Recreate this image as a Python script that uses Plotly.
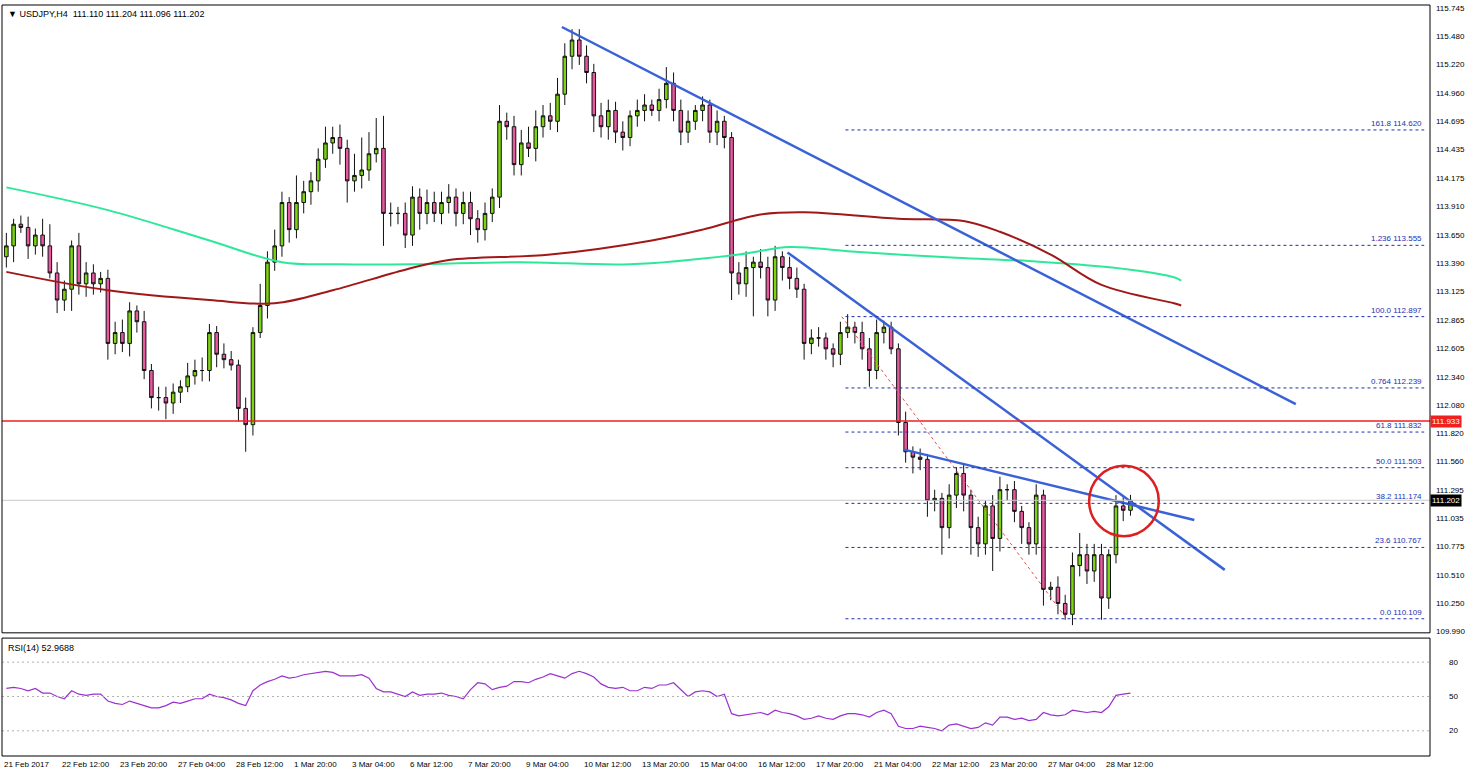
import plotly.graph_objects as go

closes = [113.55,113.75,113.72,113.55,113.65,113.55,113.3,113.05,113.15,113.55,113.2,113.3,113.2,113.25,112.65,
112.75,112.65,112.95,112.85,112.4,112.15,112.15,112.1,112.2,112.25,112.35,112.4,112.4,112.75,112.55,112.5,112.45,112.05,111.9,
112.75,113.0,113.4,113.55,113.95,113.7,113.95,114.05,114.15,114.35,114.5,114.55,114.45,114.15,114.2,114.25,114.4,114.45,
113.85,113.85,113.85,113.65,114.0,113.85,113.95,113.85,113.95,114.0,113.85,113.95,113.8,113.7,113.85,114.0,
114.7,114.65,114.3,114.5,114.45,114.65,114.75,114.7,114.95,115.3,115.45,115.3,115.15,
114.75,114.65,114.8,114.6,114.55,114.75,114.8,114.85,114.8,114.9,115.05,114.8,114.6,114.7,114.8,114.85,114.6,114.7,114.55,
113.3,113.2,113.35,113.4,113.35,113.05,113.45,113.35,113.25,113.15,112.65,112.7,112.7,112.6,112.55,112.75,112.8,112.75,112.6,112.4,112.75,112.8,112.6,
111.92,111.65,111.6,111.58,111.2,111.22,110.95,111.25,111.45,111.25,110.95,110.8,111.15,110.85,111.3,111.3,111.1,110.95,110.8,111.25,
110.38,110.4,110.25,110.15,110.6,110.7,110.55,110.7,110.3,110.7,111.15,111.11,111.202]
first_open = 113.45
wick_up = [0.12,0.05,0.08,0.1,0.06,0.15,0.2,0.1,0.08,0.05,0.12,0.1,0.08,0.06,0.08,
0.1,0.12,0.08,0.05,0.1,0.06,0.1,0.1,0.08,0.06,0.12,0.1,0.12,0.08,0.06,0.1,0.08,0.05,0.1,
0.05,0.2,0.1,0.15,0.1,0.05,0.25,0.1,0.08,0.1,0.15,0.1,0.12,0.08,0.2,0.3,0.2,0.28,
0.3,0.1,0.06,0.1,0.1,0.08,0.12,0.1,0.1,0.12,0.08,0.1,0.1,0.08,0.1,0.08,
0.15,0.08,0.1,0.12,0.15,0.15,0.1,0.12,0.15,0.12,0.1,0.1,0.1,
0.08,0.12,0.1,0.08,0.1,0.05,0.1,0.1,0.05,0.1,0.15,0.1,0.1,0.1,0.05,0.08,0.05,0.1,0.05,
0.05,0.1,0.15,0.05,0.12,0.1,0.1,0.05,0.1,0.1,0.05,0.08,0.1,0.05,0.05,0.1,0.12,0.05,0.1,0.1,0.12,0.06,0.05,
0.05,0.1,0.05,0.08,0.05,0.08,0.05,0.1,0.06,0.08,0.05,0.1,0.05,0.1,0.12,0.05,0.08,0.05,0.05,0.1,
0.05,0.05,0.1,0.08,0.12,0.2,0.1,0.1,0.1,0.05,0.1,0.08,0.05]
wick_dn = [0.1,0.15,0.05,0.12,0.08,0.1,0.05,0.12,0.1,0.2,0.1,0.12,0.1,0.08,0.15,
0.1,0.08,0.12,0.1,0.08,0.1,0.12,0.15,0.1,0.1,0.05,0.08,0.1,0.1,0.12,0.08,0.05,0.12,0.25,
0.1,0.05,0.12,0.08,0.1,0.12,0.08,0.1,0.12,0.1,0.08,0.1,0.15,0.2,0.1,0.12,0.1,0.08,
0.3,0.12,0.1,0.12,0.1,0.15,0.1,0.08,0.1,0.1,0.12,0.1,0.15,0.12,0.1,0.08,
0.1,0.12,0.1,0.1,0.08,0.12,0.1,0.08,0.1,0.1,0.12,0.08,0.1,
0.15,0.1,0.12,0.1,0.12,0.08,0.1,0.1,0.05,0.1,0.08,0.1,0.12,0.1,0.08,0.1,0.1,0.12,0.1,
0.25,0.1,0.12,0.45,0.1,0.15,0.1,0.12,0.1,0.08,0.15,0.1,0.08,0.1,0.12,0.1,0.05,0.1,0.1,0.15,0.08,0.1,0.05,
0.12,0.1,0.15,0.1,0.15,0.1,0.25,0.1,0.12,0.15,0.25,0.12,0.1,0.3,0.12,0.1,0.1,0.15,0.1,0.1,
0.15,0.1,0.1,0.05,0.1,0.1,0.12,0.1,0.2,0.1,0.08,0.1,0.05]

rsi = [57,58,57,55,57,53,53,50,48,55,52,51,52,52,46,
44,43,46,44,42,40,40,42,45,44,46,48,48,52,50,49,47,44,42,
55,60,63,65,68,66,67,69,70,71,72,71,68,68,68,69,66,57,
54,54,52,50,54,51,52,52,53,51,50,48,56,62,61,56,
58,59,63,63,62,65,67,70,68,66,70,72,70,
67,61,58,57,58,55,55,58,57,60,60,62,56,50,54,55,54,50,52,
35,33,34,35,36,34,38,36,35,33,30,31,33,31,30,33,35,35,34,32,36,38,35,
24,22,22,24,23,22,20,25,26,24,22,23,27,25,32,32,30,31,29,30,
36,34,33,34,38,37,36,37,36,41,51,52,53]

ma_green_x = [0,14,28,38,46,56,71,86,101,108,116,131,141,155,161,162]
ma_green_v = [114.09,113.88,113.6,113.4,113.38,113.38,113.4,113.38,113.47,113.54,113.5,113.44,113.41,113.33,113.26,113.23]
ma_red_x = [0,14,28,37,45,55,61,75,89,96,104,110,123,132,137,144,151,161,162]
ma_red_v = [113.31,113.14,113.05,113.02,113.14,113.33,113.42,113.47,113.6,113.7,113.84,113.86,113.8,113.78,113.68,113.47,113.19,113.02,113.0]

fib_levels = [114.620,113.555,112.897,112.239,111.832,111.503,111.174,110.767,110.109]
fib_names = ["161.8","1.236","100.0","0.764","61.8","50.0","38.2","23.6","0.0"]
tick_vals = [115.745,115.480,115.220,114.960,114.695,114.435,114.175,113.910,113.650,113.390,113.125,112.865,
112.605,112.340,112.080,111.820,111.560,111.295,111.035,110.775,110.510,110.250,109.990]
date_labels = ["21 Feb 2017","22 Feb 12:00","23 Feb 20:00","27 Feb 04:00","28 Feb 12:00","1 Mar 20:00","3 Mar 04:00",
"6 Mar 12:00","7 Mar 20:00","9 Mar 04:00","10 Mar 12:00","13 Mar 20:00","15 Mar 04:00","16 Mar 12:00",
"17 Mar 20:00","21 Mar 04:00","22 Mar 12:00","23 Mar 20:00","27 Mar 04:00","28 Mar 12:00"]
tl1 = ([76.6,177.8],[115.57,112.09])
tl2 = ([107.7,168.0],[113.49,110.56])
tl3 = ([123.8,163.8],[111.67,111.02])
support = 111.933
last_price = 111.202

n = len(closes)
xs = list(range(n))
opens = [first_open] + closes[:-1]
highs = [max(o, c) + w for o, c, w in zip(opens, closes, wick_up)]
lows = [min(o, c) - w for o, c, w in zip(opens, closes, wick_dn)]

fig = go.Figure()
fig.add_trace(go.Scatter(x=ma_green_x, y=ma_green_v, mode="lines", line=dict(color="#2EE89A", width=2, shape="spline"), yaxis="y", hoverinfo="skip"))
fig.add_trace(go.Scatter(x=ma_red_x, y=ma_red_v, mode="lines", line=dict(color="#A01818", width=2, shape="spline"), yaxis="y", hoverinfo="skip"))
fig.add_trace(go.Candlestick(x=xs, open=opens, high=highs, low=lows, close=closes,
    increasing=dict(fillcolor="#7CD412", line=dict(color="#111111", width=1)),
    decreasing=dict(fillcolor="#E8579F", line=dict(color="#111111", width=1)),
    whiskerwidth=0, yaxis="y"))
for tl in (tl1, tl2, tl3):
    fig.add_trace(go.Scatter(x=tl[0], y=tl[1], mode="lines", line=dict(color="#3A62D6", width=2.5), yaxis="y", hoverinfo="skip"))
fig.add_trace(go.Scatter(x=[115.2, 146.2], y=[fib_levels[2], fib_levels[8]], mode="lines",
    line=dict(color="#E05050", width=1, dash="dot"), yaxis="y", hoverinfo="skip"))
fig.add_trace(go.Scatter(x=xs, y=rsi, mode="lines", line=dict(color="#9B30D0", width=1.2), yaxis="y2", hoverinfo="skip"))

shapes = []
for lv in fib_levels:
    shapes.append(dict(type="line", xref="x", yref="y", x0=115.7, x1=195.5, y0=lv, y1=lv, line=dict(color="#1E2FB0", width=1, dash="3px,3px")))
shapes.append(dict(type="line", xref="paper", yref="y", x0=0, x1=1, y0=support, y1=support, line=dict(color="#EE2020", width=1.5)))
shapes.append(dict(type="line", xref="paper", yref="y", x0=0, x1=1, y0=last_price, y1=last_price, line=dict(color="#C8C8C8", width=1)))
for lv in (80, 50, 20):
    shapes.append(dict(type="line", xref="paper", yref="y2", x0=0, x1=1, y0=lv, y1=lv, line=dict(color="#B0B0B0", width=1, dash="2px,3px")))
shapes.append(dict(type="circle", xref="x", yref="y", x0=149.3, x1=158.9, y0=110.87, y1=111.52, line=dict(color="#DD1F1F", width=2.5)))
shapes.append(dict(type="rect", xref="paper", yref="paper", x0=0, x1=1, y0=0.164, y1=1, line=dict(color="black", width=1)))
shapes.append(dict(type="rect", xref="paper", yref="paper", x0=0, x1=1, y0=0, y1=0.157, line=dict(color="black", width=1)))

ann = []
f = dict(family="Liberation Sans", size=9, color="black")
fs = dict(family="Liberation Sans", size=8, color="black")
for lv, nm in zip(fib_levels, fib_names):
    ann.append(dict(x=195.5, y=lv, xref="x", yref="y", text=f"{nm} {lv:.3f}", showarrow=False, xanchor="right", yanchor="bottom", font=dict(family="Liberation Sans", size=8, color="#1E2FB0")))
for i, lab in enumerate(date_labels):
    ann.append(dict(x=i * 8 - 0.6, y=-0.002, xref="x", yref="paper", text=lab, showarrow=False, xanchor="left", yanchor="top", font=fs))
for tv in tick_vals:
    ann.append(dict(x=1.003, y=tv, xref="paper", yref="y", text=f"{tv:.3f}", showarrow=False, xanchor="left", yanchor="middle", font=fs))
for tv in (80, 50, 20):
    ann.append(dict(x=1.012, y=tv, xref="paper", yref="y2", text=str(tv), showarrow=False, xanchor="left", yanchor="middle", font=fs))
ann.append(dict(x=1.0, y=support, xref="paper", yref="y", text=f"{support:.3f}", showarrow=False, xanchor="left", yanchor="middle", bgcolor="#EE2020", font=dict(family="Liberation Sans", size=8, color="white")))
ann.append(dict(x=1.0, y=last_price, xref="paper", yref="y", text=f"{last_price:.3f}", showarrow=False, xanchor="left", yanchor="middle", bgcolor="#000000", font=dict(family="Liberation Sans", size=8, color="white")))
ann.append(dict(x=0.003, y=0.997, xref="paper", yref="paper", text="▼ USDJPY,H4  111.110 111.204 111.096 111.202", showarrow=False, xanchor="left", yanchor="top", font=f))
ann.append(dict(x=0.003, y=0.153, xref="paper", yref="paper", text="RSI(14) 52.9688", showarrow=False, xanchor="left", yanchor="top", font=f))

fig.update_layout(
    width=1480, height=772, margin=dict(l=2, r=50, t=5, b=16, autoexpand=False),
    paper_bgcolor="white", plot_bgcolor="white", showlegend=False,
    xaxis=dict(range=[-0.6, 196.3], showgrid=False, showticklabels=False, zeroline=False, rangeslider=dict(visible=False), fixedrange=True),
    yaxis=dict(domain=[0.164, 1], range=[109.979, 115.773], showgrid=False, showticklabels=False, zeroline=False, side="right"),
    yaxis2=dict(domain=[0, 0.157], range=[-2, 101], showgrid=False, showticklabels=False, zeroline=False),
    shapes=shapes, annotations=ann,
)
fig.write_html("out.html", config={"displayModeBar": False},
               post_script="document.body.style.margin='0';document.body.style.overflow='hidden';")
